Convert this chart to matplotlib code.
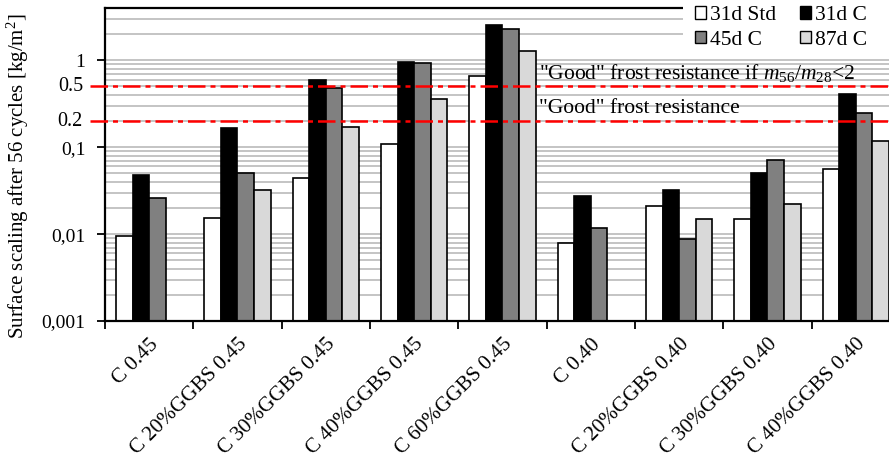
import numpy as np
import matplotlib
matplotlib.use("Agg")
import matplotlib.pyplot as plt
from matplotlib.patches import Patch, Rectangle
from matplotlib.ticker import FixedLocator, NullFormatter
import matplotlib.transforms as mtransforms

plt.rcParams['font.family'] = ['Liberation Serif', 'DejaVu Serif']
plt.rcParams['mathtext.fontset'] = 'custom'
plt.rcParams['mathtext.rm'] = 'Liberation Serif'
plt.rcParams['mathtext.it'] = 'Liberation Serif:italic'

# data (kg/m2)
mixes = ["C 0.45", "C 20%GGBS 0.45", "C 30%GGBS 0.45", "C 40%GGBS 0.45",
         "C 60%GGBS 0.45", "C 0.40", "C 20%GGBS 0.40", "C 30%GGBS 0.40",
         "C 40%GGBS 0.40"]
std_31d = [0.0094, 0.0154, 0.044, 0.108, 0.66, 0.0080, 0.0208, 0.015, 0.056]
c_31d = [0.048, 0.165, 0.59, 0.95, 2.55, 0.0271, 0.0324, 0.050, 0.41]
c_45d = [0.026, 0.050, 0.48, 0.94, 2.31, 0.0119, 0.0089, 0.0715, 0.245]
c_87d = [np.nan, 0.0318, 0.170, 0.36, 1.28, np.nan, 0.015, 0.0221, 0.117]

series_names = ["31d Std", "31d C", "45d C", "87d C"]
series_colors = ["white", "black", "#808080", "#d9d9d9"]

limit_vals = [0.5, 0.2]
limit_texts = ['"Good" frost resistance if $m_{56}/m_{28}$<2', '"Good" frost resistance']

W, H = 889, 463
fig = plt.figure(figsize=(W / 100, H / 100), dpi=100)
ax = fig.add_axes([105 / W, (H - 321) / H, (900 - 105) / W, (321 - 8) / H])

ax.set_yscale('log')
ax.set_ylim(0.001, 4)
ax.set_xlim(-0.5, len(mixes) - 0.5)

x = np.arange(len(mixes))
bw = 0.1875
for k, (vals, col) in enumerate(zip([std_31d, c_31d, c_45d, c_87d], series_colors)):
    ax.bar(x + (k - 1.5) * bw, vals, width=bw, color=col, edgecolor='black',
           linewidth=1.2, zorder=2)

# grid
ax.yaxis.set_major_locator(FixedLocator([0.001, 0.01, 0.1, 1]))
minor = [m * 10.0 ** e for e in range(-3, 1) for m in range(2, 10)]
ax.yaxis.set_minor_locator(FixedLocator(minor))
ax.yaxis.set_minor_formatter(NullFormatter())
ax.set_yticklabels(["0,001", "0,01", "0,1", "1"], fontsize=14)
ax.grid(True, which='both', axis='y', color='#bfbfbf', linewidth=1.3)
ax.set_axisbelow(True)
ax.tick_params(axis='y', which='major', length=6, width=1.3, pad=8, direction='out')
ax.tick_params(axis='y', which='minor', length=0)

# x ticks: labels at group centres, marks at group boundaries
ax.set_xticks(x)
ax.set_xticklabels(mixes, rotation=45, ha='right', rotation_mode='anchor', fontsize=15.2)
ax.tick_params(axis='x', which='major', length=0, pad=10)
ax.set_xticks(np.arange(-0.5, len(mixes), 1.0), minor=True)
ax.tick_params(axis='x', which='minor', length=6, width=1.3, direction='out')

for s in ax.spines.values():
    s.set_linewidth(1.6)
    s.set_zorder(4)

# limit lines
trans = mtransforms.blended_transform_factory(ax.transAxes, ax.transData)
pix = mtransforms.blended_transform_factory(
    fig.dpi_scale_trans + mtransforms.Affine2D().scale(1 / fig.dpi), ax.transData)
for v, t in zip(limit_vals, limit_texts):
    ax.plot([-0.019, 1], [v, v], transform=trans, color='red', linewidth=1.8,
            dashes=(7, 2, 2, 2), clip_on=False, zorder=5)
    ax.text(83, v, str(v), transform=pix, ha='right', va='center', fontsize=14.5)
    ax.text(539, v * 1.08, t, transform=pix, ha='left', va='bottom', fontsize=15.5, zorder=6)

fig.text(18 / W, (H - 176) / H, "Surface scaling after 56 cycles [kg/m$^2$]",
         rotation=90, ha='center', va='center', fontsize=15)

# legend sits on a white box covering the top right corner
fig.patches.append(Rectangle((683 / W, (H - 50) / H), 1, 1, transform=fig.transFigure,
                             facecolor='white', edgecolor='none', zorder=10))
handles = [Patch(facecolor=c, edgecolor='black', linewidth=1) for c in series_colors]
order = [0, 2, 1, 3]
leg = fig.legend([handles[i] for i in order], [series_names[i] for i in order],
                 ncol=2, loc='upper left', bbox_to_anchor=(693 / W, 1 - 4 / H),
                 frameon=False, fontsize=15.5, handlelength=0.5, handleheight=0.5,
                 handletextpad=0.2, columnspacing=1.1, labelspacing=0.25,
                 borderpad=0.1, borderaxespad=0)
leg.set_zorder(11)

fig.savefig("out.png", dpi=100)
